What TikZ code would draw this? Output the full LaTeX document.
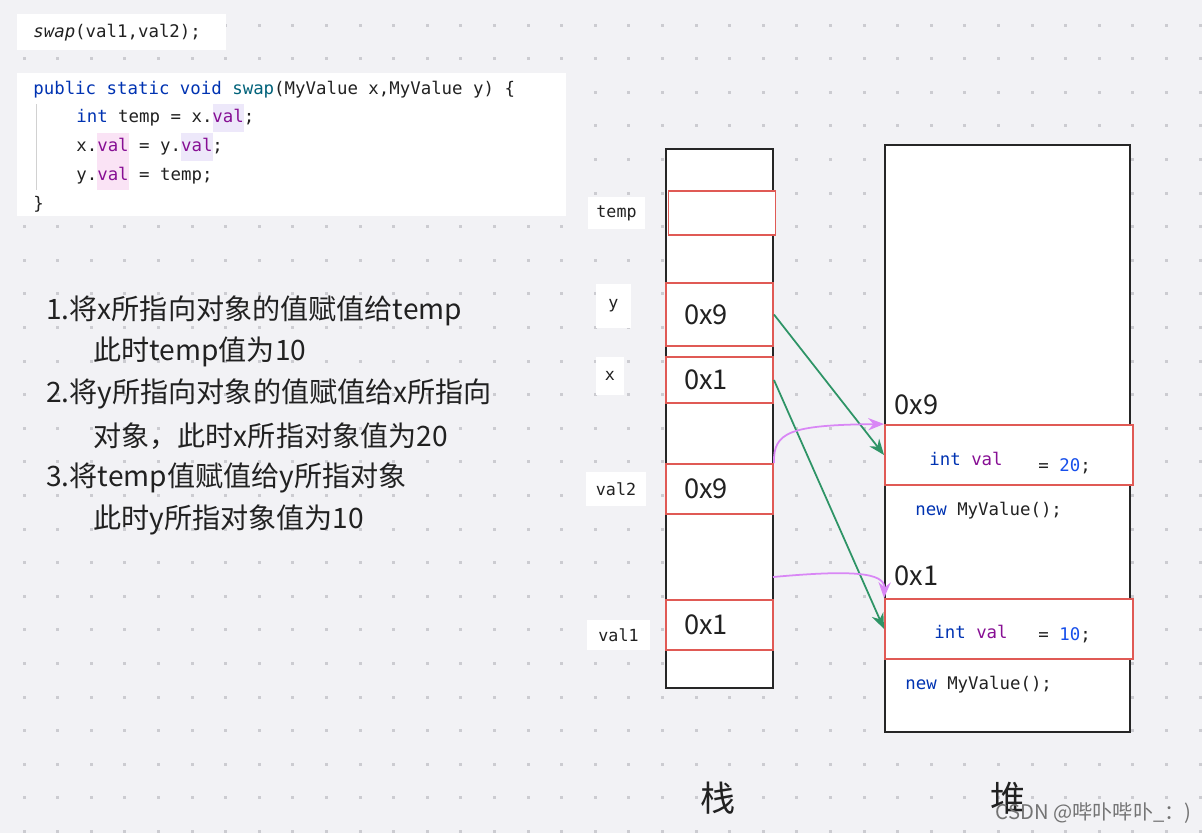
\documentclass[tikz,border=0pt]{standalone}
\usepackage{fontspec}
\setmainfont{Noto Sans CJK SC}
\newfontfamily\codefont{DejaVu Sans Mono}
\usetikzlibrary{arrows.meta}

\newlength{\px}
\setlength{\px}{0.02cm}

\definecolor{bgcolor}{rgb}{0.949, 0.949, 0.961}
\definecolor{dotcolor}{rgb}{0.800, 0.800, 0.820}
\definecolor{cellred}{rgb}{0.878, 0.353, 0.333}
\definecolor{ptrgreen}{rgb}{0.180, 0.580, 0.400}
\definecolor{refpink}{rgb}{0.850, 0.530, 0.960}
\definecolor{kwblue}{rgb}{0.000, 0.200, 0.700}
\definecolor{fnteal}{rgb}{0.000, 0.384, 0.478}
\definecolor{fieldpurple}{rgb}{0.530, 0.060, 0.580}
\definecolor{numblue}{rgb}{0.090, 0.310, 0.920}
\definecolor{hlpink}{rgb}{0.980, 0.890, 0.960}
\definecolor{hllav}{rgb}{0.930, 0.910, 0.980}
\definecolor{inkcolor}{rgb}{0.130, 0.130, 0.130}

\tikzset{
  codeline/.style={anchor=west, inner sep=0pt, text=inkcolor, font=\codefont\fontsize{9.9}{12}\selectfont},
  note/.style={anchor=west, inner sep=0pt, text=inkcolor, font=\fontsize{16}{19}\selectfont},
  frame/.style={draw=black!85, line width=1.2pt, fill=white, inner sep=0pt},
  slot/.style={draw=cellred, line width=1.1pt, fill=white, inner xsep=18\px, inner ysep=0pt,
    text width=71\px, align=left, text=inkcolor, font=\fontsize{15.5}{18}\selectfont},
  objbox/.style={draw=cellred, line width=1.1pt, fill=white, inner sep=0pt,
    minimum width=248\px, minimum height=60\px},
  addr/.style={anchor=west, inner sep=0pt, text=inkcolor, font=\fontsize{15.5}{18}\selectfont},
  varlbl/.style={fill=white, inner sep=0pt, text=inkcolor, font=\codefont\fontsize{9.5}{11}\selectfont},
  ptr/.style={draw=ptrgreen, line width=1pt, -{Stealth[length=9pt,width=7pt]}},
  ref/.style={draw=refpink, line width=1pt, -{Stealth[length=9pt,width=7pt]}},
}

\begin{document}
\begin{tikzpicture}[x=0.02cm, y=-0.02cm]
\useasboundingbox (0,0) rectangle (1202,833);
\fill[bgcolor] (0,0) rectangle (1202,833);
% dot grid
\foreach \i in {0,...,35}{
  \foreach \j in {0,...,24}{
    \fill[dotcolor] ({22.5+33.6*\i},{23.5+33.6*\j}) rectangle ++(3,3);
  }
}

% code
\fill[white] (17,14) rectangle (226,50);
\node[codeline] (call) at (33,33) {\textit{swap}(val1,val2);};
\fill[white] (17,73) rectangle (566,216);
\fill[hllav] (212.5,104) rectangle (244,132);
\fill[hlpink] (97,133) rectangle (128.5,190);
\fill[hllav] (181,133) rectangle (212.5,161);
\draw[black!18, line width=0.4pt] (36,104) -- (36,190);
\node[codeline] (sig) at (33,90) {{\color{kwblue}public static void} {\color{fnteal}swap}(MyValue x,MyValue y) \{};
\node[codeline] (ln1) at (76,118) {{\color{kwblue}int} temp = x.{\color{fieldpurple}val};};
\node[codeline] (ln2) at (76,147) {x.{\color{fieldpurple}val} = y.{\color{fieldpurple}val};};
\node[codeline] (ln3) at (76,176) {y.{\color{fieldpurple}val} = temp;};
\node[codeline] (close) at (33,204) {\}};

% steps
\node[note] (s1) at (46,311) {1.将x所指向对象的值赋值给temp};
\node[note] (s1b) at (93,352) {此时temp值为10};
\node[note] (s2) at (46,394) {2.将y所指向对象的值赋值给x所指向};
\node[note] (s2b) at (93,436) {对象，此时x所指对象值为20};
\node[note] (s3) at (46,478) {3.将temp值赋值给y所指对象};
\node[note] (s3b) at (93,520) {此时y所指对象值为10};

% stack
\node[frame, minimum width=107\px, minimum height=539\px] (stack) at (719.5,418.5) {};
\node[slot, minimum height=44\px] (tempcell) at (722,213) {};
\node[slot, minimum height=63\px] (ycell) at (719.5,314.5) {0x9};
\node[slot, minimum height=46\px] (xcell) at (719.5,380) {0x1};
\node[slot, minimum height=50\px] (val2cell) at (719.5,489) {0x9};
\node[slot, minimum height=50\px] (val1cell) at (719.5,625) {0x1};
\node[varlbl, minimum width=57\px, minimum height=32\px] (templbl) at (616.5,213) {temp};
\node[varlbl, minimum width=35\px, minimum height=44\px] (ylbl) at (613.5,306) {y};
\node[varlbl, minimum width=28\px, minimum height=38\px] (xlbl) at (610,376) {x};
\node[varlbl, minimum width=60\px, minimum height=34\px] (val2lbl) at (616,489) {val2};
\node[varlbl, minimum width=63\px, minimum height=30\px] (val1lbl) at (618.5,635) {val1};
\node[font=\fontsize{20}{24}\selectfont, text=inkcolor] (stacklbl) at (718,798) {栈};

% heap
\node[frame, minimum width=245\px, minimum height=587\px] (heap) at (1007.5,438.5) {};
\node[addr] (addr9) at (894,405) {0x9};
\node[objbox] (obj9) at (1009,455) {};
\node[codeline] (field9) at (929,459) {{\color{kwblue}int} {\color{fieldpurple}val}};
\node[codeline] (init9) at (1038,466) {= {\color{numblue}20};};
\node[codeline] (new9) at (915,511) {{\color{kwblue}new} MyValue();};
\node[addr] (addr1) at (894,576) {0x1};
\node[objbox] (obj1) at (1009,629) {};
\node[codeline] (field1) at (934,632) {{\color{kwblue}int} {\color{fieldpurple}val}};
\node[codeline] (init1) at (1038,635) {= {\color{numblue}10};};
\node[codeline] (new1) at (905,685) {{\color{kwblue}new} MyValue();};
\node[font=\fontsize{20}{24}\selectfont, text=inkcolor] (heaplbl) at (1008,798) {堆};
\node[anchor=east, inner sep=0pt, text=black!55, font=\fontsize{11.5}{14}\selectfont] (mark) at (1192,813) {CSDN @哔卟哔卟\_：)};

% references
\coordinate (refstart) at (773,577);
\draw[ptr] (ycell.east) -- (obj9.west);
\draw[ptr] (xcell.east) -- (obj1.west);
\draw[ref] (val2cell.north east) .. controls (773,432) and (790,425) .. (obj9.north west);
\draw[ref] (refstart) .. controls (850,570) and (885,572) .. (obj1.north west);
\end{tikzpicture}
\end{document}
